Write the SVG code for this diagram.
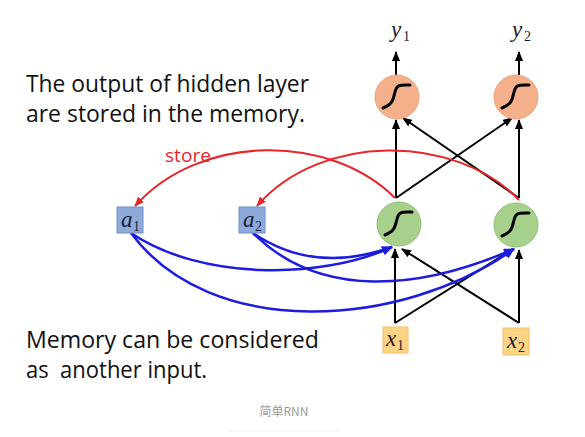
<svg xmlns="http://www.w3.org/2000/svg" width="585" height="437" viewBox="0 0 585 437">
<style>
.txt{font-family:"Open Sans","Liberation Sans",sans-serif;font-size:24px;fill:#111}
.var{font-family:"Liberation Serif",serif;font-style:italic;font-size:23px;fill:#1a1a2e}
.sub{font-family:"Liberation Serif",serif;font-size:14px;fill:#1a1a2e}
.blk{stroke:#000;stroke-width:2;fill:none;marker-end:url(#ab)}
.red{stroke:#e8262a;stroke-width:2;fill:none;marker-end:url(#ar)}
.blu{stroke:#1c1ce0;stroke-width:2.5;fill:none;marker-end:url(#au)}
.sig{stroke:#000;stroke-width:3;fill:none;stroke-linecap:round}
.out{fill:#f4b08a;stroke:#eea27a;stroke-width:1}
.hid{fill:#a8d08d;stroke:#8fc075;stroke-width:1}
.mem{fill:#8eaadb;stroke:#6f8fcb;stroke-width:1}
.inp{fill:#fdd486;stroke:#f5c265;stroke-width:1}
</style>
<defs>
<marker id="ab" markerUnits="userSpaceOnUse" markerWidth="10" markerHeight="8" refX="9" refY="4" orient="auto"><path d="M0,0 L10,4 L0,8 Z" fill="#000"/></marker>
<marker id="ar" markerUnits="userSpaceOnUse" markerWidth="10" markerHeight="8" refX="9" refY="4" orient="auto"><path d="M0,0 L10,4 L0,8 Z" fill="#e8262a"/></marker>
<marker id="au" markerUnits="userSpaceOnUse" markerWidth="11" markerHeight="9" refX="10" refY="4.5" orient="auto"><path d="M0,0 L11,4.5 L0,9 Z" fill="#1c1ce0"/></marker>
</defs>
<rect width="585" height="437" fill="#fff"/>
<g id="texts">
<text class="txt" x="26" y="92" textLength="283" lengthAdjust="spacingAndGlyphs">The output of hidden layer</text>
<text class="txt" x="26" y="122" textLength="279" lengthAdjust="spacingAndGlyphs">are stored in the memory.</text>
<text class="txt" x="26" y="348" textLength="293" lengthAdjust="spacingAndGlyphs">Memory can be considered</text>
<text class="txt" x="26" y="378" textLength="181" lengthAdjust="spacingAndGlyphs" xml:space="preserve">as  another input.</text>
<text x="165" y="162" font-family="Open Sans,Liberation Sans,sans-serif" font-size="18" fill="#e8262a" textLength="46" lengthAdjust="spacingAndGlyphs">store</text>
<text x="284" y="416" text-anchor="middle" font-family="Noto Sans CJK SC,Noto Sans,sans-serif" font-size="12" fill="#999">简单RNN</text>
<line x1="228" y1="431" x2="341" y2="431" stroke="#eeeeee" stroke-width="1"/>
</g>
<g id="connectors">
<line class="blk" x1="396" y1="75" x2="396" y2="52"/>
<line class="blk" x1="519" y1="75" x2="519" y2="52"/>
<line class="blk" x1="396" y1="198" x2="396" y2="120"/>
<line class="blk" x1="396" y1="198" x2="512" y2="118"/>
<line class="blk" x1="519" y1="198" x2="519" y2="120"/>
<line class="blk" x1="519" y1="198" x2="403" y2="118"/>
<line class="blk" x1="395" y1="323" x2="395" y2="249"/>
<line class="blk" x1="395" y1="323" x2="513" y2="249"/>
<line class="blk" x1="519" y1="323" x2="519" y2="250"/>
<line class="blk" x1="519" y1="323" x2="402" y2="249"/>
<path class="red" d="M395,198 C330,133 200,133 135,206"/>
<path class="red" d="M519,200 C455,133 320,133 257,206"/>
<path class="blu" d="M131,233 C200,280 320,280 392,247"/>
<path class="blu" d="M131,233 C210,340 400,330 514,249"/>
<path class="blu" d="M253,233 C300,265 350,262 392,247"/>
<path class="blu" d="M253,233 C320,300 420,290 514,249"/>
</g>
<g id="y1"><text class="var" x="391" y="37">y</text><text class="sub" x="403" y="41">1</text></g>
<g id="y2"><text class="var" x="512" y="37">y</text><text class="sub" x="524" y="41">2</text></g>
<g id="o1"><circle class="out" cx="397" cy="97" r="22"/><path class="sig" d="M383,108 C393,104 393,100 395,92 C397,84 400,85 410,85"/></g>
<g id="o2"><circle class="out" cx="516" cy="97" r="22"/><path class="sig" d="M502,108 C512,104 512,100 514,92 C516,84 519,85 529,85"/></g>
<g id="h1"><circle class="hid" cx="399" cy="224" r="22"/><path class="sig" d="M385,235 C395,231 395,227 397,219 C399,211 402,212 412,212"/></g>
<g id="h2"><circle class="hid" cx="516" cy="225" r="22"/><path class="sig" d="M502,236 C512,232 512,228 514,220 C516,212 519,213 529,213"/></g>
<g id="a1"><rect class="mem" x="117" y="207" width="26" height="26"/><text class="var" x="121" y="227">a</text><text class="sub" x="133" y="231">1</text></g>
<g id="a2"><rect class="mem" x="239" y="207" width="26" height="26"/><text class="var" x="243" y="227">a</text><text class="sub" x="255" y="231">2</text></g>
<g id="x1"><rect class="inp" x="383" y="327" width="25" height="26"/><text class="var" x="386" y="346">x</text><text class="sub" x="397" y="350">1</text></g>
<g id="x2"><rect class="inp" x="503" y="328" width="26" height="27"/><text class="var" x="507" y="348">x</text><text class="sub" x="518" y="352">2</text></g>
</svg>
